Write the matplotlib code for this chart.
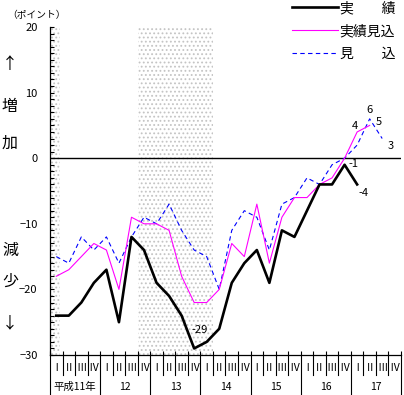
import numpy as np
import matplotlib
matplotlib.use("Agg")
import matplotlib.pyplot as plt
import matplotlib.transforms as mtransforms

plt.rcParams['font.family'] = ['Noto Sans CJK JP', 'DejaVu Sans']
plt.rcParams['hatch.linewidth'] = 0.8

# data (DI, points) by quarter from 平成11年 I
quarters = ["Ⅰ", "Ⅱ", "Ⅲ", "Ⅳ"]
years = ["平成11年", "12", "13", "14", "15", "16", "17"]
jisseki = [-24, -24, -22, -19, -17, -25, -12, -14, -19, -21, -24, -29, -28,
           -26, -19, -16, -14, -19, -11, -12, -8, -4, -4, -1, -4]
jisseki_mikomi = [-18, -17, -15, -13, -14, -20, -9, -10, -10, -11, -18, -22,
                  -22, -20, -13, -15, -7, -16, -9, -6, -6, -4, -3, 0, 4, 5]
mikomi = [-15, -16, -12, -14, -12, -16, -12, -9, -10, -7, -11, -14, -15, -20,
          -11, -8, -9, -14, -7, -6, -3, -4, -1, 0, 2, 6, 3]
# shaded periods (quarter index)
shade_spans = [(-0.5, 0.3), (6.5, 12.5)]

n_q = len(years) * len(quarters)

fig = plt.figure(figsize=(4.04, 3.95), dpi=100)
ax = fig.add_axes([50 / 404, 40 / 395, 351 / 404, 328 / 395])

for x0, x1 in shade_spans:
    ax.axvspan(x0, x1, facecolor="white", edgecolor="#c4c4c4",
               hatch="....", linewidth=0, zorder=0)

ax.axhline(0, color="black", lw=1.0, zorder=1)

xb = np.arange(len(jisseki))
xm = np.arange(len(jisseki_mikomi))
xk = np.arange(len(mikomi))
ax.plot(xk, mikomi, color="#0000ff", lw=0.8, dashes=(4, 3),
        label="見　　込", zorder=2)
ax.plot(xm, jisseki_mikomi, color="#ff00ff", lw=0.8,
        label="実績見込", zorder=3)
ax.plot(xb, jisseki, color="black", lw=1.9, label="実　　績", zorder=4)

# value labels
lab_kw = dict(textcoords="offset pixels", ha="center", va="center",
              fontsize=8)
ax.annotate(str(jisseki[11]), (xb[11], jisseki[11]), xytext=(6, 18), **lab_kw)
ax.annotate(str(jisseki[23]), (xb[23], jisseki[23]), xytext=(9, 1), **lab_kw)
ax.annotate(str(jisseki[24]), (xb[24], jisseki[24]), xytext=(6, -9), **lab_kw)
ax.annotate(str(jisseki_mikomi[24]), (xm[24], jisseki_mikomi[24]),
            xytext=(-2, 6), **lab_kw)
ax.annotate(str(jisseki_mikomi[25]), (xm[25], jisseki_mikomi[25]),
            xytext=(9, 3), **lab_kw)
ax.annotate(str(mikomi[25]), (xk[25], mikomi[25]), xytext=(0, 9), **lab_kw)
ax.annotate(str(mikomi[26]), (xk[26], mikomi[26]), xytext=(9, -7), **lab_kw)

# axes
ax.set_xlim(-0.5, n_q - 0.5)
ax.set_ylim(-30, 20)
ax.set_yticks(np.arange(-30, 21, 10))
ax.set_yticks(np.arange(-30, 21, 1), minor=True)
ax.tick_params(axis="y", which="both", direction="in", length=3, width=0.8,
               labelsize=8, pad=9)
ax.set_xticks(np.arange(n_q + 1) - 0.5)
ax.set_xticklabels([])
ax.tick_params(axis="x", direction="in", length=3, width=0.8)
for s in ["top", "right"]:
    ax.spines[s].set_visible(False)
for s in ["left", "bottom"]:
    ax.spines[s].set_linewidth(0.9)

# quarter / year table below the axis
tr = mtransforms.blended_transform_factory(ax.transData, ax.transAxes)
row1 = -20 / 328
row2 = -40 / 328
for k in range(n_q + 1):
    xx = k - 0.5
    y_end = row2 if k % 4 == 0 else row1
    ax.plot([xx, xx], [0, y_end], color="black", lw=0.8, transform=tr,
            clip_on=False)
for k in range(n_q):
    ax.text(k, -13 / 328, quarters[k % 4], transform=tr, ha="center",
            va="center", fontsize=7.5)
for j, yl in enumerate(years):
    ax.text(j * 4 + 1.5, -32 / 328, yl, transform=tr, ha="center",
            va="center", fontsize=7.5)

# side texts
fig.text(37 / 404, 1 - 15 / 395, "（ポイント）", ha="center", va="center",
         fontsize=7)
for ch, yy in [("↑", 65), ("増", 106), ("加", 143), ("減", 250),
               ("少", 281), ("↓", 323)]:
    fig.text(10 / 404, 1 - yy / 395, ch, ha="center", va="center",
             fontsize=11.5)

handles, labels = ax.get_legend_handles_labels()
order = [2, 1, 0]
fig.legend([handles[i] for i in order], [labels[i] for i in order],
           loc="upper right", bbox_to_anchor=(395 / 404, 1 - 1 / 395),
           frameon=False, fontsize=10, handlelength=3.3, handletextpad=0.1,
           labelspacing=0.65, borderpad=0, borderaxespad=0)

fig.savefig("out.png", dpi=100)
